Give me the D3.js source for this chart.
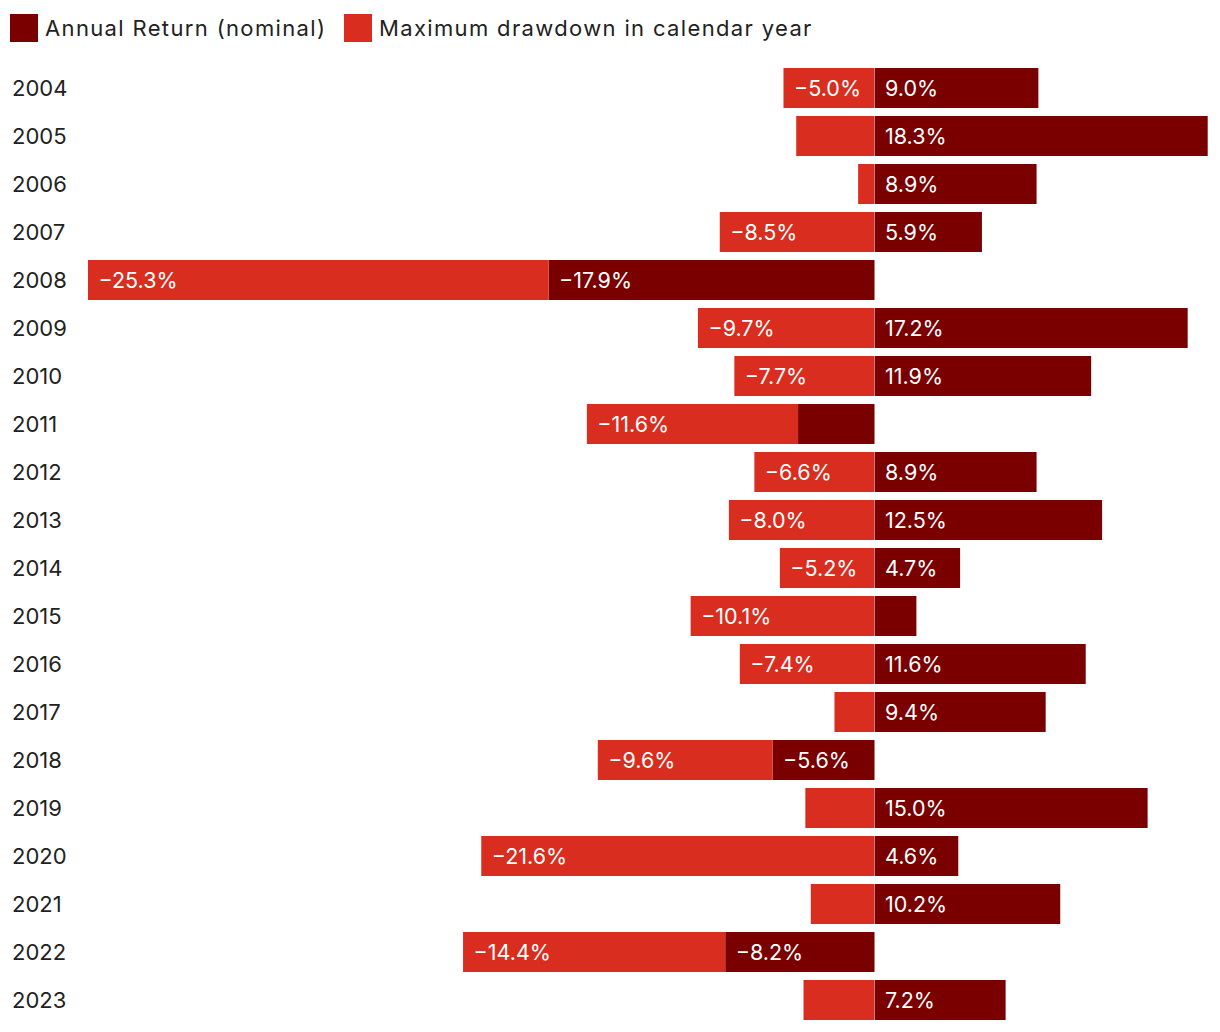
<!DOCTYPE html>
<html><head><meta charset="utf-8">
<script src="https://cdn.jsdelivr.net/npm/d3@7"></script>
<style>
html,body{margin:0;padding:0;background:#fff;}
svg{display:block;font-family:Inter,"Noto Sans",sans-serif;}
</style></head>
<body><svg id="chart" width="1220" height="1032"></svg>
<script>
const years = ["2004","2005","2006","2007","2008","2009","2010","2011","2012","2013","2014","2015","2016","2017","2018","2019","2020","2021","2022","2023"];
const annualReturn = [9.0,18.3,8.9,5.9,-17.9,17.2,11.9,-4.2,8.9,12.5,4.7,2.3,11.6,9.4,-5.6,15.0,4.6,10.2,-8.2,7.2];
const maxDrawdown = [-5.0,-4.3,-0.9,-8.5,-25.3,-9.7,-7.7,-11.6,-6.6,-8.0,-5.2,-10.1,-7.4,-2.2,-9.6,-3.8,-21.6,-3.5,-14.4,-3.9];
const seriesNames = ["Annual Return (nominal)","Maximum drawdown in calendar year"];
const colors = ["#7a0000","#d92d1f"];

const svg = d3.select("#chart");
const x = d3.scaleLinear().domain([-43.2,18.3]).range([88,1207.7]);
const y = d3.scaleBand().domain(years).range([64,1024]).paddingInner(1/6).paddingOuter(1/12);
const fmt = v => (v<0?"\u2212":"") + Math.abs(v).toFixed(1) + "%";

// legend
const lg = svg.append("g");
const legX = [10,344];
seriesNames.forEach((n,i)=>{
  lg.append("rect").attr("x",legX[i]).attr("y",14).attr("width",28).attr("height",28).attr("fill",colors[i]);
  lg.append("text").attr("x",legX[i]+35).attr("y",28).attr("dy","0.35em")
    .attr("font-size",22).attr("letter-spacing",1.35).attr("fill","#222").text(n);
});

// year labels
svg.append("g").selectAll("text").data(years).join("text")
  .attr("x",12).attr("y",d=>y(d)+y.bandwidth()/2).attr("dy","0.35em")
  .attr("font-size",22).attr("fill","#222").text(d=>d);

// stacked segments
const segs = [];
years.forEach((yr,i)=>{
  const r = annualReturn[i], d = maxDrawdown[i];
  segs.push({yr, v:r, x0:Math.min(0,r), x1:Math.max(0,r), c:colors[0]});
  const base = r<0 ? r : 0;
  segs.push({yr, v:d, x0:base+d, x1:base, c:colors[1]});
});
const g = svg.append("g");
g.selectAll("rect").data(segs).join("rect")
  .attr("x",s=>x(s.x0)).attr("y",s=>y(s.yr))
  .attr("width",s=>x(s.x1)-x(s.x0)).attr("height",y.bandwidth())
  .attr("fill",s=>s.c);

// separator line at zero where positive return meets drawdown
svg.append("g").selectAll("line").data(years.filter((yr,i)=>annualReturn[i]>0)).join("line")
  .attr("x1",x(0)).attr("x2",x(0))
  .attr("y1",d=>y(d)).attr("y2",d=>y(d)+y.bandwidth())
  .attr("stroke","#c08080").attr("stroke-width",1);

// labels
g.selectAll("text").data(segs.filter(s=>x(s.x1)-x(s.x0)>80)).join("text")
  .attr("x",s=>x(s.x0)+10.5).attr("y",s=>y(s.yr)+y.bandwidth()/2).attr("dy","0.35em")
  .attr("font-size",21.5).attr("fill","#fff").text(s=>fmt(s.v));
</script></body></html>
